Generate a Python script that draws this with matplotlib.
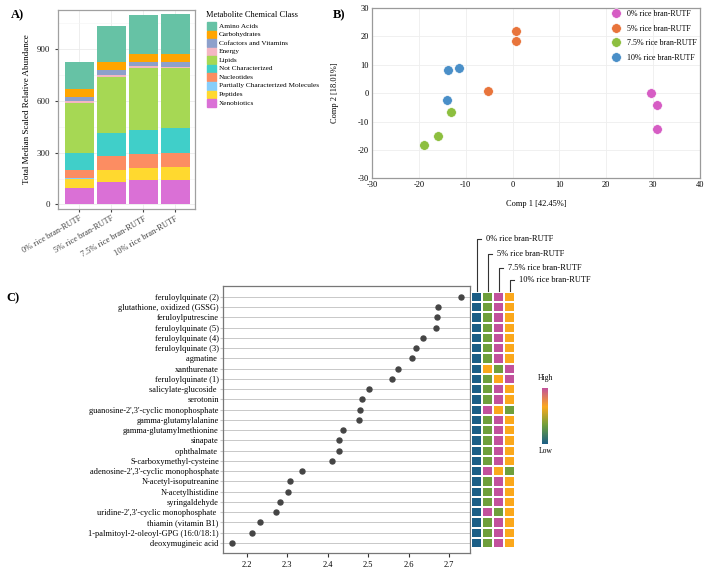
import matplotlib.pyplot as plt
import numpy as np
from matplotlib.colors import LinearSegmentedColormap, Normalize
from matplotlib.patches import Rectangle
import matplotlib.cm as cm

plt.rcParams['font.family'] = ['Liberation Serif', 'DejaVu Serif']
plt.rcParams['axes.unicode_minus'] = False

# %%
# Data

groups = ["0% rice bran-RUTF", "5% rice bran-RUTF", "7.5% rice bran-RUTF", "10% rice bran-RUTF"]

# panel A: stacked abundance per chemical class (legend order)
classes = ["Amino Acids", "Carbohydrates", "Cofactors and Vitamins", "Energy", "Lipids",
           "Not Characterized", "Nucleotides", "Partially Characterized Molecules",
           "Peptides", "Xenobiotics"]
class_colors = ["#66C2A5", "#FFA500", "#8DA0CB", "#F4B6C2", "#A6D854",
                "#40CFC9", "#FC8D62", "#87CEFA", "#FFD92F", "#DA70D6"]
amino_acids = [160, 209, 225, 233]
carbohydrates = [43, 48, 48, 46]
cofactors = [24, 27, 25, 27]
energy = [11, 14, 11, 9]
lipids = [290, 323, 357, 347]
not_characterized = [99, 132, 143, 147]
nucleotides = [50, 81, 77, 77]
partially_characterized = [2, 2, 2, 2]
peptides = [53, 68, 68, 74]
xenobiotics = [96, 131, 143, 143]

# panel B: PCA scores
pca_colors = ["#D65DC4", "#E8743B", "#8DBF3F", "#4A8FC8"]
comp1 = [[29.5, 30.8, 30.8], [0.8, 0.8, -5.3], [-13.2, -16.0, -18.8], [-13.8, -11.5, -13.9]]
comp2 = [[0.0, -4.2, -12.5], [22.0, 18.2, 0.7], [-6.7, -15.0, -18.2], [8.3, 8.8, -2.3]]

# panel C: top metabolites and score
metabolites = ["feruloylquinate (2)", "glutathione, oxidized (GSSG)", "feruloylputrescine",
               "feruloylquinate (5)", "feruloylquinate (4)", "feruloylquinate (3)",
               "agmatine ", "xanthurenate", "feruloylquinate (1)", "salicylate-glucoside ",
               "serotonin", "guanosine-2',3'-cyclic monophosphate", "gamma-glutamylalanine",
               "gamma-glutamylmethionine", "sinapate", "ophthalmate ", "S-carboxymethyl-cysteine",
               "adenosine-2',3'-cyclic monophosphate", "N-acetyl-isoputreanine",
               "N-acetylhistidine", "syringaldehyde", "uridine-2',3'-cyclic monophosphate ",
               "thiamin (vitamin B1)", "1-palmitoyl-2-oleoyl-GPG (16:0/18:1)", "deoxymugineic acid"]
scores = [2.729, 2.674, 2.670, 2.669, 2.636, 2.618, 2.609, 2.575, 2.558, 2.503,
          2.486, 2.481, 2.477, 2.437, 2.429, 2.427, 2.410, 2.337, 2.306, 2.301,
          2.282, 2.272, 2.232, 2.212, 2.164]

# relative level (1 = low ... 4 = high) per group
level_0 = [1, 1, 1, 1, 1, 1, 1, 1, 1, 1, 1, 1, 1, 1, 1, 1, 1, 1, 1, 1, 1, 1, 1, 1, 1]
level_5 = [2, 2, 2, 2, 2, 2, 2, 3, 2, 2, 2, 4, 2, 2, 2, 2, 2, 4, 2, 2, 2, 4, 2, 2, 2]
level_75 = [4, 4, 4, 4, 4, 4, 4, 2, 3, 4, 4, 3, 4, 4, 4, 4, 4, 3, 4, 4, 4, 2, 4, 4, 4]
level_10 = [3, 3, 3, 3, 3, 3, 3, 4, 4, 3, 3, 2, 3, 3, 3, 3, 3, 2, 3, 3, 3, 3, 3, 3, 3]

W, H = 709, 577


def fig_rect(left, top, right, bottom):
    return [left / W, 1 - bottom / H, (right - left) / W, (bottom - top) / H]


fig = plt.figure(figsize=(7.09, 5.77), dpi=100)

# %%
# Panel A
axA = fig.add_axes(fig_rect(58, 9.7, 195, 209))
stack = [amino_acids, carbohydrates, cofactors, energy, lipids, not_characterized,
         nucleotides, partially_characterized, peptides, xenobiotics]
x = np.arange(len(groups))
bottom = np.zeros(len(groups))
for vals, col in zip(stack[::-1], class_colors[::-1]):
    axA.bar(x, vals, width=0.9, bottom=bottom, color=col, zorder=2)
    bottom += np.array(vals)
axA.set_xlim(-0.67, 3.62)
axA.set_ylim(-27, 1130)
axA.set_yticks([0, 300, 600, 900])
axA.set_yticks([150, 450, 750, 1050], minor=True)
axA.set_xticks(x)
axA.set_xticklabels(groups, rotation=30, ha='right', rotation_mode='anchor', fontsize=6, color='#444')
axA.tick_params(axis='y', labelsize=6.5, length=2, color='#444', labelcolor='#222')
axA.tick_params(axis='y', which='minor', length=0)
axA.tick_params(axis='x', length=2, color='#444', pad=2)
axA.grid(True, which='major', color='#ebebeb', lw=0.6, zorder=0)
axA.grid(True, which='minor', axis='y', color='#f4f4f4', lw=0.4, zorder=0)
axA.set_axisbelow(True)
for s in axA.spines.values():
    s.set_color('#a0a0a0')
    s.set_linewidth(0.9)
axA.set_ylabel("Total Median Scaled Relative Abundance", fontsize=6.5)
axA.yaxis.set_label_coords(-0.197, 0.5)

fig.text(206 / W, 1 - 15 / H, "Metabolite Chemical Class", fontsize=6, va='center', ha='left')
for k, (name, col) in enumerate(zip(classes, class_colors)):
    yc = 26 + k * 8.56
    fig.add_artist(Rectangle((207 / W, 1 - (yc + 3.9) / H), 8.5 / W, 7.8 / H,
                             color=col, transform=fig.transFigure))
    fig.text(218.5 / W, 1 - yc / H, name, fontsize=5.2, va='center', ha='left')

# %%
# Panel B
axB = fig.add_axes(fig_rect(372, 8, 700, 178.3))
for k in range(len(groups)):
    axB.scatter(comp1[k], comp2[k], s=48, color=pca_colors[k], edgecolor='white',
                linewidth=0.4, zorder=3, label=groups[k])
axB.set_xlim(-30, 40)
axB.set_ylim(-30, 30)
axB.set_xticks(np.arange(-30, 41, 10))
axB.set_yticks(np.arange(-30, 31, 10))
axB.grid(True, color='#eeeeee', lw=0.6, zorder=0)
axB.tick_params(labelsize=6, length=0, pad=2)
for s in axB.spines.values():
    s.set_color('#9a9a9a')
    s.set_linewidth(0.9)
axB.set_xlabel("Comp 1 [42.45%]", fontsize=6)
axB.set_ylabel("Comp 2 [18.01%]", fontsize=6)
axB.xaxis.set_label_coords(0.5, -0.125)
axB.yaxis.set_label_coords(-0.10, 0.5)
axB.legend(loc='upper right', bbox_to_anchor=(700 / W, 1 - 7 / H), bbox_transform=fig.transFigure,
           frameon=False, fontsize=5.8, handletextpad=0.4, labelspacing=0.8,
           borderaxespad=0, scatteryoffsets=[0.5])

# %%
# Panel C: dot plot
ylim = (24.98, -1.07)
axC = fig.add_axes(fig_rect(223, 286, 470, 553))
rows = np.arange(len(metabolites))
for r in rows:
    axC.axhline(r, color='#c8c8c8', lw=0.7, zorder=1)
axC.plot(scores, rows, 'o', color='#454545', ms=3.6, zorder=3)
axC.set_ylim(*ylim)
axC.set_xlim(2.141, 2.752)
axC.set_yticks(rows)
axC.set_yticklabels(metabolites, fontsize=6)
axC.set_xticks([2.2, 2.3, 2.4, 2.5, 2.6, 2.7])
axC.set_xticklabels(["2.2", "2.3", "2.4", "2.5", "2.6", "2.7"])
axC.tick_params(axis='y', length=2, color='#c8c8c8', pad=1)
axC.tick_params(axis='x', labelsize=6, length=3, color='#333', pad=3)
for s in axC.spines.values():
    s.set_color('#777777')
    s.set_linewidth(0.9)

# Panel C: heatmap
cmap = LinearSegmentedColormap.from_list(
    "lowhigh", ["#1B5E86", "#6E9F3C", "#FBA81C", "#C2519C"])
levels = np.array([level_0, level_5, level_75, level_10]).T
axH = fig.add_axes(fig_rect(471, 286, 515, 553))
axH.pcolormesh(np.arange(-0.5, 4, 1), np.arange(-0.5, 25, 1), levels, cmap=cmap,
               vmin=1, vmax=4, edgecolors='white', linewidth=1.3)
axH.set_xlim(-0.5, 3.5)
axH.set_ylim(*ylim)
axH.axis('off')
label_rows = [-5.69, -4.20, -2.86, -1.66]
for j, (g, yl) in enumerate(zip(groups, label_rows)):
    axH.plot([j, j, j + 0.45], [-0.55, yl, yl], color='#333', lw=0.8, clip_on=False)
    axH.text(j + 0.9, yl, g, fontsize=6, va='center', ha='left', clip_on=False)

axCB = fig.add_axes(fig_rect(541.7, 388, 548, 444))
cb = fig.colorbar(cm.ScalarMappable(norm=Normalize(1, 4), cmap=cmap), cax=axCB)
cb.set_ticks([])
cb.outline.set_visible(False)
fig.text(545.5 / W, 1 - 382 / H, "High", fontsize=5.5, ha='center', va='bottom')
fig.text(545.5 / W, 1 - 447 / H, "Low", fontsize=5.5, ha='center', va='top')

# %%
# Panel labels
fig.text(11 / W, 1 - 15 / H, "A)", fontsize=9, fontweight='bold', va='center')
fig.text(333 / W, 1 - 15 / H, "B)", fontsize=9, fontweight='bold', va='center')
fig.text(6 / W, 1 - 298 / H, "C)", fontsize=9, fontweight='bold', va='center')

fig.savefig("out.png", dpi=100)
